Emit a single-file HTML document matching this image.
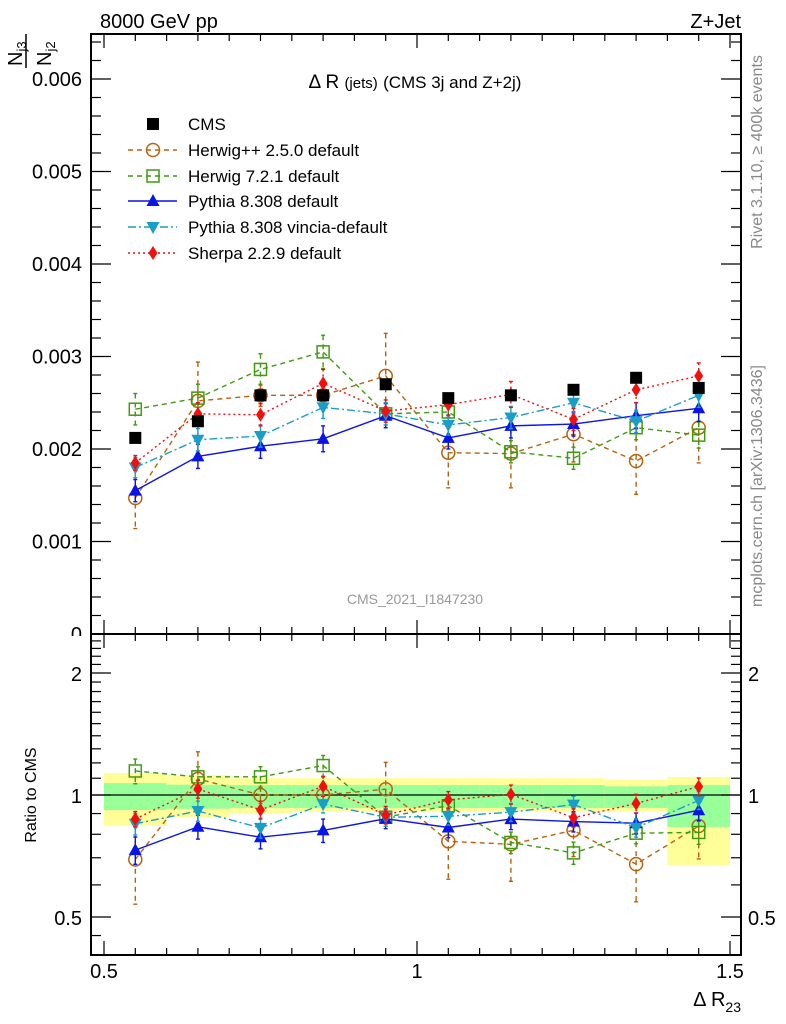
<!DOCTYPE html>
<html><head><meta charset="utf-8"><style>
body{margin:0;background:#fff;}
svg{display:block;font-family:"Liberation Sans",sans-serif;}
</style></head><body>
<svg id="c" width="786" height="1024" viewBox="0 0 786 1024" xmlns="http://www.w3.org/2000/svg">
<g id="bands"></g>
<g id="axes"></g>
<g id="series"></g>
<g id="texts">
<text x="100" y="28" font-size="20">8000 GeV pp</text>
<text x="741" y="28" font-size="20" text-anchor="end">Z+Jet</text>
<text x="415" y="88" font-size="19" text-anchor="middle">Δ R <tspan font-size="15">(jets)</tspan> <tspan font-size="17">(CMS 3j and Z+2j)</tspan></text>
<text x="415" y="604" font-size="14" fill="#999" text-anchor="middle">CMS_2021_I1847230</text>
<text transform="translate(762,152) rotate(-90)" font-size="16" fill="#888" text-anchor="middle">Rivet 3.1.10, ≥ 400k events</text>
<text transform="translate(762,486) rotate(-90)" font-size="16" fill="#888" text-anchor="middle">mcplots.cern.ch [arXiv:1306.3436]</text>
<text transform="translate(36,795) rotate(-90)" font-size="16" text-anchor="middle">Ratio to CMS</text>
<text x="741" y="1006" font-size="20" text-anchor="end">Δ R<tspan font-size="14" dy="6">23</tspan></text>
<g>
<text transform="translate(22,66) rotate(-90)" font-size="20">N<tspan font-size="13" dy="4">j3</tspan></text>
<line x1="26" y1="34" x2="26" y2="68" stroke="#000" stroke-width="1.5"/>
<text transform="translate(51,66) rotate(-90)" font-size="20">N<tspan font-size="13" dy="4">j2</tspan></text>
</g>
</g>
<g id="legend"></g>
</svg>
<script>
const xCenters=[0.55,0.65,0.75,0.85,0.95,1.05,1.15,1.25,1.35,1.45];
const cmsVals=[2.12,2.30,2.58,2.58,2.70,2.55,2.58,2.64,2.77,2.66];
const herwigppVals=[1.47,2.52,2.58,2.58,2.79,1.96,1.95,2.16,1.87,2.23];
const herwigppErr=[0.33,0.42,0.12,0.12,0.46,0.38,0.37,0.30,0.36,0.38];
const herwig7Vals=[2.43,2.55,2.86,3.05,2.38,2.40,1.97,1.90,2.23,2.15];
const herwig7Err=[0.17,0.15,0.17,0.18,0.12,0.12,0.12,0.12,0.13,0.14];
const pythiaVals=[1.55,1.92,2.03,2.11,2.36,2.12,2.25,2.27,2.36,2.44];
const pythiaErr=[0.12,0.13,0.13,0.14,0.13,0.12,0.13,0.13,0.14,0.14];
const vinciaVals=[1.80,2.10,2.14,2.45,2.38,2.26,2.34,2.50,2.30,2.58];
const vinciaErr=[0.11,0.12,0.12,0.12,0.12,0.11,0.12,0.12,0.12,0.13];
const sherpaVals=[1.85,2.38,2.37,2.71,2.41,2.48,2.59,2.32,2.64,2.79];
const sherpaErr=[0.08,0.12,0.12,0.15,0.12,0.12,0.14,0.12,0.14,0.14];
const yellowUp=[1.133,1.12,1.10,1.10,1.10,1.10,1.10,1.10,1.09,1.108];
const yellowDn=[0.839,0.88,0.90,0.91,0.91,0.91,0.91,0.91,0.91,0.672];
const greenUp=[1.07,1.06,1.058,1.058,1.058,1.058,1.058,1.058,1.05,1.058];
const greenDn=[0.918,0.925,0.929,0.929,0.929,0.929,0.929,0.929,0.929,0.834];
const mainTicks=[0,0.001,0.002,0.003,0.004,0.005,0.006];
const mainTickLabels=["0","0.001","0.002","0.003","0.004","0.005","0.006"];
const xTicks=[0.5,1,1.5];
const xTickLabels=["0.5","1","1.5"];
const ratioTicks=[0.5,1,2];
const ratioTickLabels=["0.5","1","2"];

const NS="http://www.w3.org/2000/svg";
const L=91,R=741,T=34,MB=634,RB=955;
const X=v=>104+(v-0.5)*626;
const Y=v=>634-v*92.5*1000;
const YR=r=>795-122*Math.log2(r);
function mk(tag,attrs,parent){const e=document.createElementNS(NS,tag);for(const k in attrs)e.setAttribute(k,attrs[k]);parent.appendChild(e);return e;}
const axes=document.getElementById('axes'),bands=document.getElementById('bands'),ser=document.getElementById('series'),leg=document.getElementById('legend');

xCenters.forEach((c,i)=>{
  let r=mk('rect',{x:X(c-0.05),y:YR(yellowUp[i]),width:X(c+0.05)-X(c-0.05),height:YR(yellowDn[i])-YR(yellowUp[i]),fill:'#ffff99'},bands);
  
  
  let g=mk('rect',{x:X(c-0.05),y:YR(greenUp[i]),width:X(c+0.05)-X(c-0.05),height:YR(greenDn[i])-YR(greenUp[i]),fill:'#99ff99'},bands);
  
  
});
let ul=mk('line',{x1:L,x2:R,y1:YR(1),y2:YR(1),stroke:'#000','stroke-width':1.3},axes);


[[T,MB],[MB,RB]].forEach(([t,b],k)=>{
  let f=mk('rect',{x:L,y:t,width:R-L,height:b-t,fill:'none',stroke:'#000','stroke-width':2},axes);
  
  
});
for(let v=0.5;v<=1.5001;v+=0.05){
  const major=Math.abs(v*2-Math.round(v*2))<1e-6;const len=major?14:7;
  [[MB,-1],[T,1],[RB,-1],[MB,1]].forEach(([y0,d])=>{
    let t=mk('line',{x1:X(v),x2:X(v),y1:y0,y2:y0+d*len,stroke:'#000','stroke-width':1.2},axes);
    
    
  });
}
xTicks.forEach((v,i)=>{
  let t=mk('text',{x:X(v),y:978,'font-size':20,'text-anchor':'middle'},axes);t.textContent=xTickLabels[i];
  
  
});
for(let v=0;v<=0.0064;v+=0.0002){
  const major=Math.abs(v*1000-Math.round(v*1000))<1e-6;const len=major?20:10;
  [[L,1],[R,-1]].forEach(([x0,d])=>{
    let t=mk('line',{x1:x0,x2:x0+d*len,y1:Y(v),y2:Y(v),stroke:'#000','stroke-width':1.2},axes);
    
    
  });
}
mainTicks.forEach((v,i)=>{
  let t=mk('text',{x:82,y:Y(v)+7,'font-size':20,'text-anchor':'end'},axes);t.textContent=mainTickLabels[i];
  
  
});
// cover the lower part of the "0" label like the reference
let cov=mk('rect',{x:60,y:636,width:30,height:12,fill:'#fff'},axes);


const rminor=[0.45,0.5,0.6,0.7,0.8,0.9,1,1.1,1.2,1.3,1.4,1.5,1.6,1.7,1.8,1.9,2,2.1,2.2,2.3,2.4];
rminor.forEach(v=>{
  const major=(v===0.5||v===1||v===2);const len=major?20:10;
  if(YR(v)>RB||YR(v)<MB)return;
  [[L,1],[R,-1]].forEach(([x0,d])=>{
    let t=mk('line',{x1:x0,x2:x0+d*len,y1:YR(v),y2:YR(v),stroke:'#000','stroke-width':1.2},axes);
    
    
  });
});
ratioTicks.forEach((v,i)=>{
  let t=mk('text',{x:82,y:YR(v)+8,'font-size':20,'text-anchor':'end'},axes);t.textContent=ratioTickLabels[i];
  
  
  let t2=mk('text',{x:748,y:YR(v)+8,'font-size':20},axes);t2.textContent=ratioTickLabels[i];
  
  
});

function marker(type,color,x,y,parent){
  let e;
  if(type==='square')e=mk('rect',{x:x-6,y:y-6,width:12,height:12,fill:'#000'},parent);
  else if(type==='circle')e=mk('circle',{cx:x,cy:y,r:6.5,fill:'none',stroke:color,'stroke-width':1.5},parent);
  else if(type==='osquare')e=mk('rect',{x:x-6,y:y-6,width:12,height:12,fill:'none',stroke:color,'stroke-width':1.5},parent);
  else if(type==='tri')e=mk('polygon',{points:`${x},${y-7} ${x-6.5},${y+5} ${x+6.5},${y+5}`,fill:color},parent);
  else if(type==='itri')e=mk('polygon',{points:`${x},${y+7} ${x-6.5},${y-5} ${x+6.5},${y-5}`,fill:color},parent);
  else e=mk('polygon',{points:`${x},${y-7} ${x-4.5},${y} ${x},${y+7} ${x+4.5},${y}`,fill:color},parent);
  return e;
}
const defs=[
 {name:'herwigpp',vals:herwigppVals,err:herwigppErr,color:'#b8620e',m:'circle',dash:'5,4',label:'Herwig++ 2.5.0 default'},
 {name:'herwig7',vals:herwig7Vals,err:herwig7Err,color:'#3f9a10',m:'osquare',dash:'5,4',label:'Herwig 7.2.1 default'},
 {name:'pythia',vals:pythiaVals,err:pythiaErr,color:'#0a14e6',m:'tri',dash:'',label:'Pythia 8.308 default'},
 {name:'vincia',vals:vinciaVals,err:vinciaErr,color:'#1a9ec8',m:'itri',dash:'8,3,2,3',label:'Pythia 8.308 vincia-default'},
 {name:'sherpa',vals:sherpaVals,err:sherpaErr,color:'#f01010',m:'diamond',dash:'2,3',label:'Sherpa 2.2.9 default'}
];
defs.forEach(d=>{
  const g=mk('g',{},ser);
  
  
  const mp=xCenters.map((c,i)=>[X(c),Y(d.vals[i]/1000)]);
  const rp=xCenters.map((c,i)=>[X(c),YR(d.vals[i]/cmsVals[i])]);
  [mp,rp].forEach((pts,k)=>{
    let pl=mk('polyline',{points:pts.map(p=>p.join(',')).join(' '),fill:'none',stroke:d.color,'stroke-width':1.4,'stroke-dasharray':d.dash},g);
    
    
  });
  xCenters.forEach((c,i)=>{
    const x=X(c);
    const ys=[[Y((d.vals[i]+d.err[i])/1000),Y((d.vals[i]-d.err[i])/1000)],[YR((d.vals[i]+d.err[i])/cmsVals[i]),YR((d.vals[i]-d.err[i])/cmsVals[i])]];
    ys.forEach(([a,b])=>{
      let e=mk('line',{x1:x,x2:x,y1:a,y2:b,stroke:d.color,'stroke-width':1.4,'stroke-dasharray':d.dash},g);
      
      
      [a,b].forEach(yy=>{let c2=mk('line',{x1:x-2,x2:x+2,y1:yy,y2:yy,stroke:d.color,'stroke-width':1.4},g);
        
        });
    });
    let m1=marker(d.m,d.color,x,Y(d.vals[i]/1000),g);
    
    
    let m2=marker(d.m,d.color,x,YR(d.vals[i]/cmsVals[i]),g);
    
    
  });
});
const cg=mk('g',{},ser);


xCenters.forEach((c,i)=>{
  let m=marker('square','#000',X(c),Y(cmsVals[i]/1000),cg);
  
  
});
const legY=[124,150,176,201,227,253];
let lm=marker('square','#000',153,legY[0],leg);


let lt=mk('text',{x:188,y:legY[0]+6,'font-size':17},leg);lt.textContent='CMS';


defs.forEach((d,k)=>{
  const y=legY[k+1];
  let l=mk('line',{x1:128,x2:177,y1:y,y2:y,stroke:d.color,'stroke-width':1.4,'stroke-dasharray':d.dash},leg);
  
  
  let m=marker(d.m,d.color,153,y,leg);
  
  
  let t=mk('text',{x:188,y:y+6,'font-size':17},leg);t.textContent=d.label;
  
  
});
</script>
</body></html>
